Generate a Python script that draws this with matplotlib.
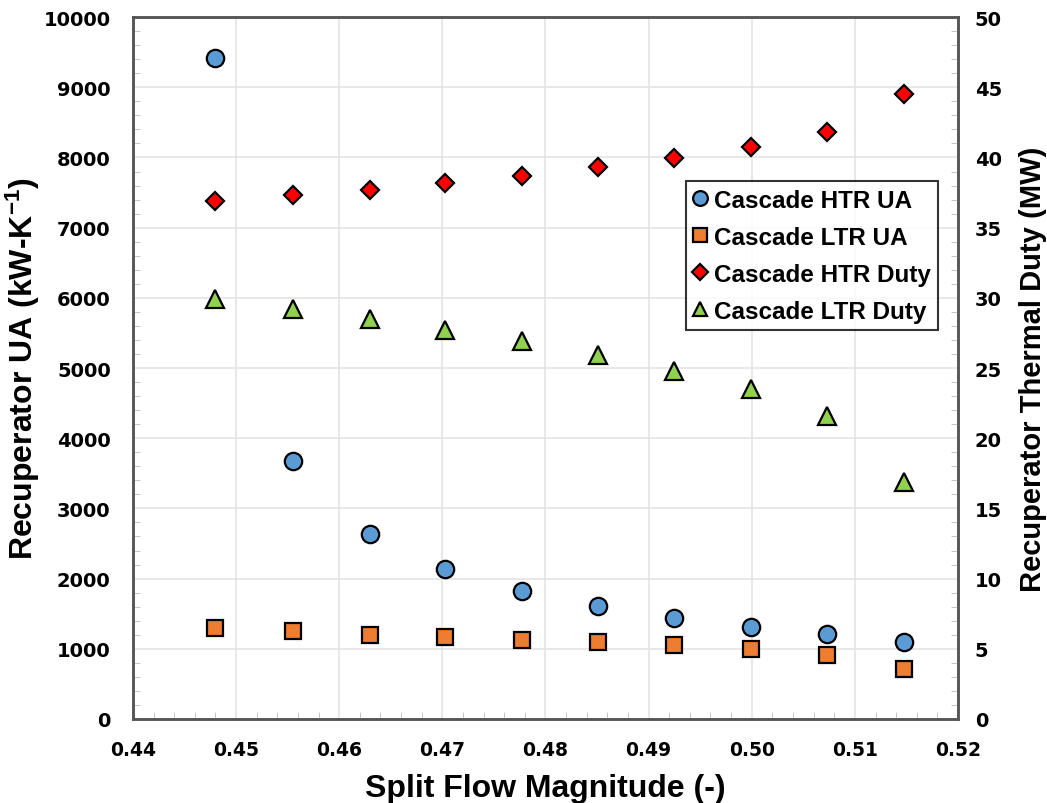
import matplotlib
matplotlib.use("Agg")
from matplotlib import pyplot as plt
from matplotlib.ticker import MultipleLocator, FormatStrFormatter

# ticks use the wider DejaVu bold, labels and legend use Liberation Sans bold
plt.rcParams['font.family'] = ['DejaVu Sans']
plt.rcParams['font.weight'] = 'bold'
plt.rcParams['mathtext.fontset'] = 'custom'
plt.rcParams['mathtext.rm'] = 'Liberation Sans:bold'
plt.rcParams['mathtext.default'] = 'rm'
label_font = ['Liberation Sans', 'DejaVu Sans']

# data
split_flow = [0.448, 0.4555, 0.463, 0.4703, 0.4777, 0.4851, 0.4925, 0.4999, 0.5073, 0.5148]
htr_ua = [9420, 3680, 2640, 2140, 1820, 1605, 1440, 1310, 1210, 1090]
ltr_ua = [1290, 1250, 1200, 1170, 1120, 1090, 1050, 990, 910, 710]
htr_duty = [36.9, 37.3, 37.7, 38.2, 38.7, 39.3, 39.95, 40.75, 41.8, 44.5]
ltr_duty = [29.9, 29.2, 28.5, 27.7, 26.9, 25.95, 24.8, 23.5, 21.6, 16.85]

fig = plt.figure(figsize=(10.47, 8.04), dpi=100)
ax = fig.add_axes([0.127, 0.1045, 0.788, 0.873])
ax2 = ax.twinx()

mk = dict(ls='none', mec='black', mew=1.6)
h1, = ax.plot(split_flow, htr_ua, marker='o', ms=12.5, mfc='#5b9bd5', label='Cascade HTR UA', **mk)
h2, = ax.plot(split_flow, ltr_ua, marker='s', ms=11.5, mfc='#ed7d31', label='Cascade LTR UA', **mk)
h3, = ax2.plot(split_flow, htr_duty, marker='D', ms=9.5, mfc='#ff0000', label='Cascade HTR Duty', **mk)
h4, = ax2.plot(split_flow, ltr_duty, marker='^', ms=12.5, mfc='#92d050', label='Cascade LTR Duty', **mk)

ax.set_xlim(0.44, 0.52)
ax.set_ylim(0, 10000)
ax2.set_ylim(0, 50)
ax.xaxis.set_major_locator(MultipleLocator(0.01))
ax.xaxis.set_minor_locator(MultipleLocator(0.002))
ax.xaxis.set_major_formatter(FormatStrFormatter('%.2f'))
ax.yaxis.set_major_locator(MultipleLocator(1000))
ax.yaxis.set_minor_locator(MultipleLocator(200))
ax2.yaxis.set_major_locator(MultipleLocator(5))
ax2.yaxis.set_minor_locator(MultipleLocator(1))

ax.grid(True, which='major', color='#e4e4e4', lw=1.2)
ax.set_axisbelow(True)
for a in (ax, ax2):
    a.tick_params(which='both', direction='in', labelsize=14, colors='#222222',
                  labelcolor='black')
    a.tick_params(which='major', length=0)
    a.tick_params(which='minor', length=5, color='#bbbbbb')
    for s in a.spines.values():
        s.set_color('#555555')
        s.set_linewidth(1.8)
ax.tick_params(axis='x', pad=15, labelsize=13.5)
ax.tick_params(axis='y', pad=16)
ax2.tick_params(axis='y', pad=12)

ax.set_xlabel('Split Flow Magnitude (-)', fontsize=23, fontweight='bold',
              family=label_font, labelpad=10)
ax.set_ylabel('Recuperator UA (kW-K$^{-1}$)', fontsize=23, fontweight='bold',
              family=label_font, labelpad=1)
ax2.set_ylabel('Recuperator Thermal Duty (MW)', fontsize=21, fontweight='bold',
               family=label_font, labelpad=12)

leg = ax2.legend(handles=[h1, h2, h3, h4], loc='upper left',
                 bbox_to_anchor=(0.670, 0.766), frameon=True,
                 prop=dict(family=label_font, weight='bold', size=17.5),
                 fancybox=False, edgecolor='black', handlelength=0.55,
                 handletextpad=0.3, borderpad=0.3, labelspacing=0.58,
                 borderaxespad=0, markerscale=0.85)
leg.get_frame().set_linewidth(1.5)

fig.savefig('out.png', dpi=100)
